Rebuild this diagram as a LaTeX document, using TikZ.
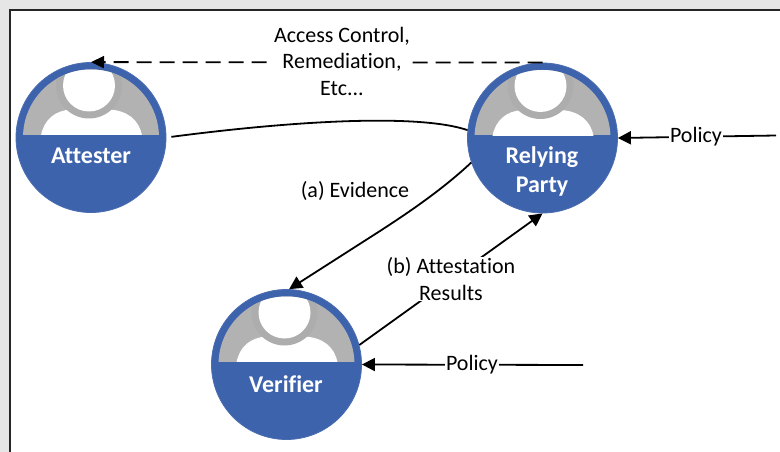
\documentclass[tikz,border=0pt]{standalone}
\usepackage{fontspec}
\setmainfont{Carlito}[Ligatures=NoCommon]
\usetikzlibrary{arrows.meta}
\definecolor{discblue}{HTML}{3E63AD}
\definecolor{discedge}{HTML}{4A6DB0}
\definecolor{capgray}{HTML}{B2B2B2}
\definecolor{halogray}{HTML}{ADADAD}
\definecolor{pagegray}{HTML}{E6E6E6}
\tikzset{
  disc/.style={circle,minimum size=150pt,inner sep=0pt,fill=discblue,draw=discedge,line width=0.8pt},
  disctext/.style={text=white,font=\fontsize{24}{29}\selectfont\bfseries,align=center,inner sep=0pt},
  lab/.style={font=\fontsize{22}{26.5}\selectfont,align=center,fill=white,inner sep=1pt},
  conn/.style={line width=1.8pt,-{Triangle[length=13pt,width=13pt]}},
  plain/.style={line width=1.8pt},
}
\newcommand{\persontop}[1]{%
  \begin{scope}[shift={(#1.center)}]
    \clip (-80,-80) rectangle (80,-3);
    \clip (0,0) circle (68pt);
    \fill[capgray] (-80,-80) rectangle (80,-3);
    \fill[white] (-50,-2) .. controls (-47,-18) and (-36,-27) .. (-20,-28)
      -- (18,-28) .. controls (36,-27) and (48,-18) .. (51,-2) -- cycle;
    \fill[halogray] (-2,-52) circle (33pt);
    \fill[white] (-2,-52) circle (26pt);
  \end{scope}}
\begin{document}
\begin{tikzpicture}[x=1pt,y=-1pt]
\useasboundingbox (0,0) rectangle (780,452);
\fill[pagegray] (0,0) rectangle (780,452);
\fill[white] (10,10) rectangle (780,452);
\draw[line width=1.5pt,black!85] (10,452) -- (10,10) -- (780,10);
\node[disc] (att) at (91,137.5) {};
\node[disc] (rp) at (542.5,138) {};
\node[disc] (ver) at (286.5,364.5) {};
\persontop{att}\persontop{rp}\persontop{ver}
\node[disctext] (attl) at (91,156) {Attester};
\node[disctext] (rpl) at (542,171) {Relying\\Party};
\node[disctext] (verl) at (286,384) {Verifier};
\coordinate (pol1) at (776,135.5);
\coordinate (pol2) at (583,365);
% evidence, passing behind the relying party
\draw[plain,shorten <=5pt] (att.east) .. controls (300,120) and (420,114) .. (rp.174);
\draw[conn] (rp.199) .. controls (440,192) and (400,218) .. (380,231) -- (ver.88);
\node[lab,fill=none] (ev) at (355,191) {(a) Evidence};
% attestation results
\draw[conn] (ver.15) -- (rp.south);
\node[lab] (res) at (451,279) {(b) Attestation\\Results};
% access control
\draw[line width=1.8pt,dash pattern=on 15pt off 8pt,-{Triangle[length=13pt,width=12pt]}] (rp.north) -- (att.north);
\node[lab] (acc) at (342,61) {Access Control,\\Remediation,\\Etc...};
% policies
\draw[conn] (pol1) -- (rp.east);
\node[lab] (p1) at (696,137) {Policy};
\draw[conn] (pol2) -- (ver.east);
\node[lab] (p2) at (472,365) {Policy};
\end{tikzpicture}
\end{document}
